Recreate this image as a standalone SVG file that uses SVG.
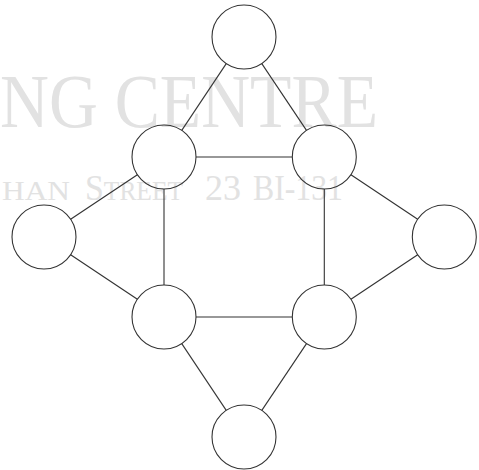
<svg xmlns="http://www.w3.org/2000/svg" width="479" height="470" viewBox="0 0 479 470">
<style>
.wm{font-family:"Liberation Serif",serif;fill:#e2e2e2}
.n{fill:none;stroke:#333;stroke-width:1.1}
.e{stroke:#333;stroke-width:1.1}
</style>
<rect width="479" height="470" fill="#fff"/>
<g id="watermark">
<text class="wm" x="0" y="127" font-size="76" textLength="378" lengthAdjust="spacingAndGlyphs">NG CENTRE</text>
<text class="wm" x="2" y="200" font-size="27" textLength="68" lengthAdjust="spacingAndGlyphs">HAN</text>
<text class="wm" x="85" y="200" font-size="36" textLength="98" lengthAdjust="spacingAndGlyphs">S<tspan font-size="27">TREET</tspan></text>
<text class="wm" x="205" y="200" font-size="36" textLength="36" lengthAdjust="spacingAndGlyphs">23</text>
<text class="wm" x="253" y="200" font-size="36" textLength="90" lengthAdjust="spacingAndGlyphs">BI-131</text>
</g>
<g id="connectors">
<line class="e" x1="226.25" y1="63.63" x2="181.75" y2="130.37"/>
<line class="e" x1="261.8" y1="63.6" x2="306.5" y2="130.4"/>
<line class="e" x1="196" y1="157" x2="292.3" y2="157"/>
<line class="e" x1="137.37" y1="174.75" x2="70.63" y2="219.25"/>
<line class="e" x1="164" y1="189" x2="164" y2="285"/>
<line class="e" x1="350.93" y1="174.75" x2="417.67" y2="219.25"/>
<line class="e" x1="324.3" y1="189" x2="324.3" y2="285"/>
<line class="e" x1="70.63" y1="254.75" x2="137.37" y2="299.25"/>
<line class="e" x1="417.67" y1="254.75" x2="350.93" y2="299.25"/>
<line class="e" x1="196" y1="317" x2="292.3" y2="317"/>
<line class="e" x1="181.75" y1="343.63" x2="226.25" y2="410.37"/>
<line class="e" x1="306.5" y1="343.6" x2="261.8" y2="410.4"/>
</g>
<g id="n-top"><circle cx="244" cy="37" r="32" class="n"/></g>
<g id="n-ul"><circle cx="164" cy="157" r="32" class="n"/></g>
<g id="n-ur"><circle cx="324.3" cy="157" r="32" class="n"/></g>
<g id="n-left"><circle cx="44" cy="237" r="32" class="n"/></g>
<g id="n-right"><circle cx="444.3" cy="237" r="32" class="n"/></g>
<g id="n-ll"><circle cx="164" cy="317" r="32" class="n"/></g>
<g id="n-lr"><circle cx="324.3" cy="317" r="32" class="n"/></g>
<g id="n-bottom"><circle cx="244" cy="437" r="32" class="n"/></g>
</svg>
